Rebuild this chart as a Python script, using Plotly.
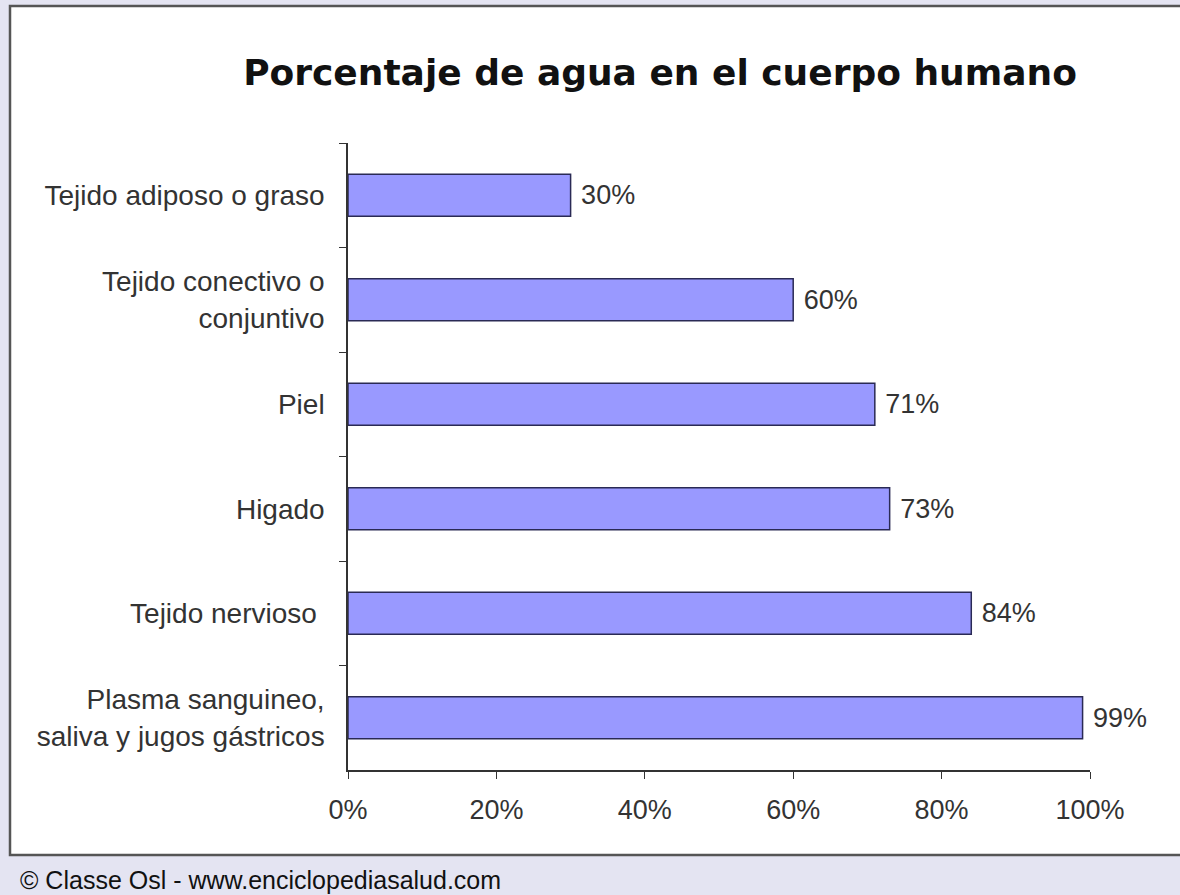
import plotly.graph_objects as go

categories = [
    "Tejido adiposo o graso",
    "Tejido conectivo o<br>conjuntivo",
    "Piel",
    "Higado",
    "Tejido nervioso ",
    "Plasma sanguineo,<br>saliva y jugos gástricos",
]
values = [30, 60, 71, 73, 84, 99]
x_ticks = [0, 20, 40, 60, 80, 100]
x_tick_labels = ["0%", "20%", "40%", "60%", "80%", "100%"]
title = "Porcentaje de agua en el cuerpo humano"
footer = "© Classe Osl - www.enciclopediasalud.com"

W, H = 1180, 895
L, T = 348, 143
R = W - 1090
B = H - 770
pw, ph = W - L - R, H - T - B

def px2x(px):
    return (px - L) / pw

def py2y(py):
    return (H - B - py) / ph

FONT = "Liberation Sans, Arial"
BG = "#E4E4F2"

fig = go.Figure()
fig.add_trace(go.Bar(
    y=categories, x=values, orientation="h",
    marker=dict(color="#9999FF", line=dict(color="#2a2a55", width=1.5)),
    text=[f" {v}%" for v in values], textposition="outside",
    textfont=dict(family=FONT, size=27, color="#333333"),
    cliponaxis=False,
))

fig.update_layout(
    width=W, height=H,
    margin=dict(l=L, r=R, t=T, b=B),
    paper_bgcolor=BG,
    plot_bgcolor="white",
    showlegend=False,
    bargap=0.6,
    font=dict(family=FONT, size=27, color="#333333"),
    title=dict(text=f"<b>{title}</b>", x=660 / W, xref="container", xanchor="center",
               y=1 - 72 / H, yref="container", yanchor="middle",
               font=dict(family="DejaVu Sans", size=36, color="#111111")),
    xaxis=dict(range=[0, 100], tickvals=x_ticks, ticktext=x_tick_labels,
               showgrid=False, zeroline=False, showline=True, linecolor="#333333",
               linewidth=1.5, ticks="outside", ticklen=7, tickcolor="#333333",
               tickfont=dict(family=FONT, size=27, color="#333333"), fixedrange=True,
               ticklabelstandoff=8),
    yaxis=dict(autorange="reversed", showgrid=False, showline=True,
               linecolor="#333333", linewidth=1.5, ticks="outside", ticklen=7,
               tickcolor="#333333", tickson="boundaries",
               tickfont=dict(family=FONT, size=28, color="#333333"), ticklabelstandoff=16),
    shapes=[dict(type="rect", xref="paper", yref="paper", layer="below",
                 x0=px2x(10), x1=px2x(1200), y0=py2y(855), y1=py2y(6),
                 fillcolor="white", line=dict(color="#555555", width=2.5))],
    annotations=[dict(text=footer, xref="paper", yref="paper",
                      x=px2x(18), y=py2y(864), xanchor="left", yanchor="top",
                      showarrow=False,
                      font=dict(family=FONT, size=25, color="#111111"))],
)

fig.write_html(
    "out.html",
    config={"displayModeBar": False},
    post_script=f"document.body.style.margin='0';document.body.style.background='{BG}';",
)
